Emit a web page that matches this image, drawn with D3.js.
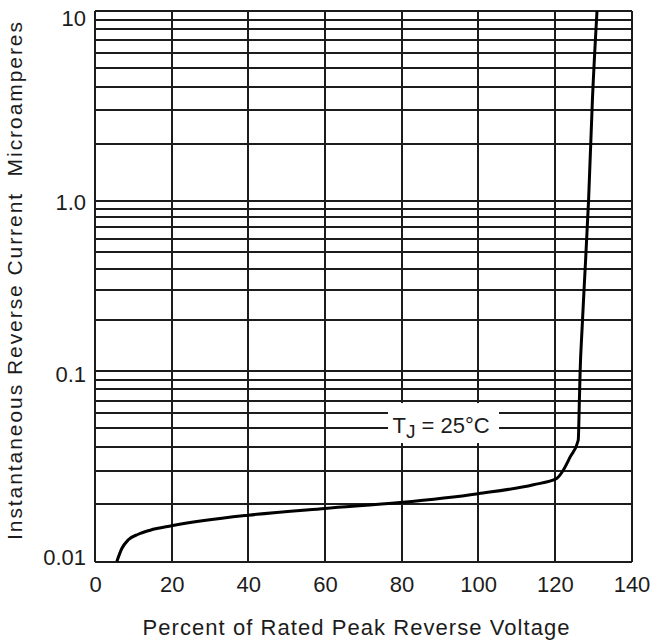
<!DOCTYPE html>
<html lang="en">
<head>
<meta charset="utf-8">
<title>Instantaneous Reverse Current vs Percent of Rated Peak Reverse Voltage</title>
<script src="https://d3js.org/d3.v7.min.js"></script>
<style>
    body { margin: 0; background: #fff; }
    text { font-family: "Liberation Sans", Arial, sans-serif; fill: #1c1c1c; }
    .grid line { stroke: #1c1c1c; stroke-width: 2; shape-rendering: crispEdges; }
    .curve { fill: none; stroke: #000; stroke-width: 3; }
</style>
</head>
<body>
<svg width="653" height="643"></svg>
<script>
// values
const percentVoltage = [5.7, 7.0, 8.7, 11.3, 14.4, 20, 40, 60, 79.6, 100, 114.4, 120.5, 121.9,
                        124.0, 126.1, 126.4, 126.6, 127.1, 127.6, 128.8, 129.8, 131.0];
const reverseCurrent = [0.0100, 0.0117, 0.0130, 0.0139, 0.0146, 0.0154, 0.0175, 0.0190, 0.0204, 0.0227, 0.0253, 0.0273, 0.0295,
                        0.0354, 0.0433, 0.0703, 0.100, 0.177, 0.296, 1.01, 3.4, 10];

const xTickValues = [0, 20, 40, 60, 80, 100, 120, 140];
const yTickValues = [0.01, 0.1, 1, 10];
const yTickLabels = ['0.01', '0.1', '1.0', '10'];

const xTitle = 'Percent of Rated Peak Reverse Voltage';
const yTitle = 'Instantaneous Reverse Current\u00a0 Microamperes';

// temperature note
const noteMain = 'T';
const noteSub = 'J';
const noteRest = ' = 25°C';
const notePos = {x: 90.3, y: 0.0533};

const margin = {top: 11, right: 21.5, bottom: 81.5, left: 95};
const width = 653 - margin.left - margin.right;
const height = 643 - margin.top - margin.bottom;

const svg = d3.select('svg')
    .append('g')
    .attr('transform', `translate(${margin.left}, ${margin.top})`);

const x = d3.scaleLinear()
    .domain([0, 140])
    .range([0, width]);

// the printed decades are not quite equal, so the log scale is piecewise
const y = d3.scaleLog()
    .domain(yTickValues)
    .range([height, 360, 190, 0]);

// minor grid: 1..9 in every decade
const gridValues = [];
yTickValues.slice(0, -1).forEach(d => {
    for (let k = 1; k < 10; k++) gridValues.push(d * k);
});
gridValues.push(10);

const grid = svg.append('g').attr('class', 'grid');
grid.selectAll('line.h')
    .data(gridValues)
    .join('line')
    .attr('class', 'h')
    .attr('x1', 0).attr('x2', width)
    .attr('y1', d => Math.round(y(d))).attr('y2', d => Math.round(y(d)));
grid.selectAll('line.v')
    .data(xTickValues)
    .join('line')
    .attr('class', 'v')
    .attr('x1', d => Math.round(x(d))).attr('x2', d => Math.round(x(d)))
    .attr('y1', 0).attr('y2', height);

// white box behind the note
const nx = x(notePos.x), ny = y(notePos.y);
svg.append('rect')
    .attr('x', nx - 53).attr('y', ny - 20)
    .attr('width', 111).attr('height', 40)
    .attr('fill', '#fff');

const note = svg.append('text')
    .attr('x', nx)
    .attr('y', ny + 10)
    .attr('text-anchor', 'middle')
    .style('font-size', '22px');
note.append('tspan').text(noteMain);
note.append('tspan').attr('dy', 5).style('font-size', '19px').text(noteSub);
note.append('tspan').attr('dy', -5).text(noteRest);

const line = d3.line()
    .x(d => x(d[0]))
    .y(d => y(d[1]))
    .curve(d3.curveMonotoneX);

svg.append('path')
    .datum(d3.zip(percentVoltage, reverseCurrent))
    .attr('class', 'curve')
    .attr('d', line);

// axes
const xAxis = svg.append('g')
    .attr('transform', `translate(0, ${height})`)
    .call(d3.axisBottom(x).tickValues(xTickValues).tickSize(0).tickPadding(15));
xAxis.select('.domain').remove();
xAxis.selectAll('text').style('font-size', '22px').attr('fill', '#1c1c1c');

const yAxis = svg.append('g')
    .call(d3.axisLeft(y).tickValues(yTickValues).tickSize(0).tickPadding(9)
        .tickFormat((d, i) => yTickLabels[i]));
yAxis.select('.domain').remove();
yAxis.selectAll('text').style('font-size', '22px').attr('fill', '#1c1c1c')
    .attr('y', (d, i) => [-4, 3, 1, 7][i]);

// titles
svg.append('text')
    .attr('x', 356 - margin.left)
    .attr('y', 635 - margin.top)
    .attr('text-anchor', 'middle')
    .attr('textLength', 427)
    .attr('lengthAdjust', 'spacing')
    .style('font-size', '22px')
    .text(xTitle);

svg.append('text')
    .attr('transform', `translate(${22 - margin.left}, ${281 - margin.top}) rotate(-90)`)
    .attr('text-anchor', 'middle')
    .attr('textLength', 518)
    .attr('lengthAdjust', 'spacing')
    .style('font-size', '21px')
    .text(yTitle);
</script>
</body>
</html>
